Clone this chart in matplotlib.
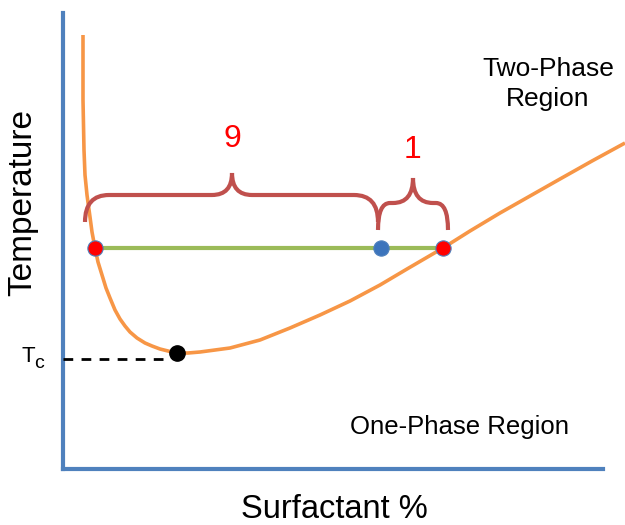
import matplotlib
matplotlib.use('Agg')
import matplotlib.pyplot as plt
from matplotlib.path import Path
from matplotlib.patches import PathPatch

plt.rcParams['font.family'] = ['Liberation Sans', 'DejaVu Sans']

# phase boundary (surfactant %, temperature) in arbitrary units
surf = [20, 20, 21, 22, 24, 27, 29, 32, 35, 39, 43, 47, 52, 57, 62, 67, 74,
        82, 89, 97, 105, 114, 125, 137, 152, 167, 182, 197, 227, 257, 287,
        317, 344, 380, 407, 437, 467, 497, 529, 562]
temp = [434, 369, 319, 294, 274, 252, 237, 221, 207, 194, 181, 171, 159, 150,
        143, 137, 131, 126, 123, 120, 118, 116, 116, 117, 119, 121, 125, 129,
        141, 154, 168, 184, 200, 221, 238, 256, 273, 290, 308, 326]

# tie line and points on it
tie_x = [32, 380]
tie_T = 221
blue_x = 318
crit = (114, 116)
tc_level = 110

# lever-rule braces: (x0, x1, tip x, base y, bar y, tip y, curl)
braces = [(22, 315, 169, 247, 274, 296, 24),
          (315, 385, 350, 239, 266, 291, 12)]
brace_labels = ['9', '1']
label_pos = [(169, 330), (349, 319)]

fig = plt.figure(figsize=(6.25, 5.25), dpi=100)
ax = fig.add_axes([63 / 625, 56 / 525, 540 / 625, 456 / 525])
ax.set_xlim(0, 540)
ax.set_ylim(0, 456)
for s in ['top', 'right']:
    ax.spines[s].set_visible(False)
for s in ['left', 'bottom']:
    ax.spines[s].set_color('#4F81BD')
    ax.spines[s].set_linewidth(3)
ax.set_xticks([])
ax.set_yticks([])

ax.plot(surf, temp, color='#F79646', lw=2.6, clip_on=False, zorder=2,
        solid_capstyle='butt', solid_joinstyle='round')

ax.plot(tie_x, [tie_T, tie_T], color='#9BBB59', lw=3, zorder=3)
ax.plot(tie_x, [tie_T, tie_T], 'o', color='red', ms=11, mec='#4F81BD',
        mew=0.8, zorder=4)
ax.plot([blue_x], [tie_T], 'o', color='#3C74BC', ms=11, mec='#4F81BD',
        mew=0.8, zorder=4)

ax.plot([0, crit[0] - 12], [tc_level, tc_level], color='black', lw=2,
        ls=(0, (3.5, 3)), clip_on=False, zorder=3)
ax.plot([crit[0]], [crit[1]], 'o', color='black', ms=11, zorder=4)

for (x0, x1, xm, yb, yh, yt, r) in braces:
    verts = [(x0, yb), (x0, yh), (x0 + r, yh),
             (xm - 20, yh), (xm, yh), (xm, yt),
             (xm, yh), (xm + 20, yh),
             (x1 - r, yh), (x1, yh), (x1, yb)]
    codes = [Path.MOVETO, Path.CURVE3, Path.CURVE3,
             Path.LINETO, Path.CURVE3, Path.CURVE3,
             Path.CURVE3, Path.CURVE3,
             Path.LINETO, Path.CURVE3, Path.CURVE3]
    ax.add_patch(PathPatch(Path(verts, codes), fc='none', ec='#C0504D',
                           lw=3, zorder=3))

for lab, (lx, ly) in zip(brace_labels, label_pos):
    ax.text(lx, ly, lab, color='red', fontsize=23, ha='center', va='center')

ax.text(485, 385, 'Two-Phase\nRegion', fontsize=19, ha='center',
        va='center', linespacing=1.3)
ax.text(397, 42, 'One-Phase Region', fontsize=18.5, ha='center',
        va='center')

# Tc label
fig.text(28 / 625, 1 - 357 / 525, 'T', fontsize=16, ha='center', va='center')
fig.text(39 / 625, 1 - 364 / 525, 'c', fontsize=14, ha='center', va='center')

fig.text(334 / 625, 1 - 509 / 525, 'Surfactant %', fontsize=23.5,
         ha='center', va='center')
fig.text(23 / 625, 1 - 203 / 525, 'Temperature', fontsize=24, rotation=90,
         ha='center', va='center')

fig.savefig('out.png', dpi=100)
